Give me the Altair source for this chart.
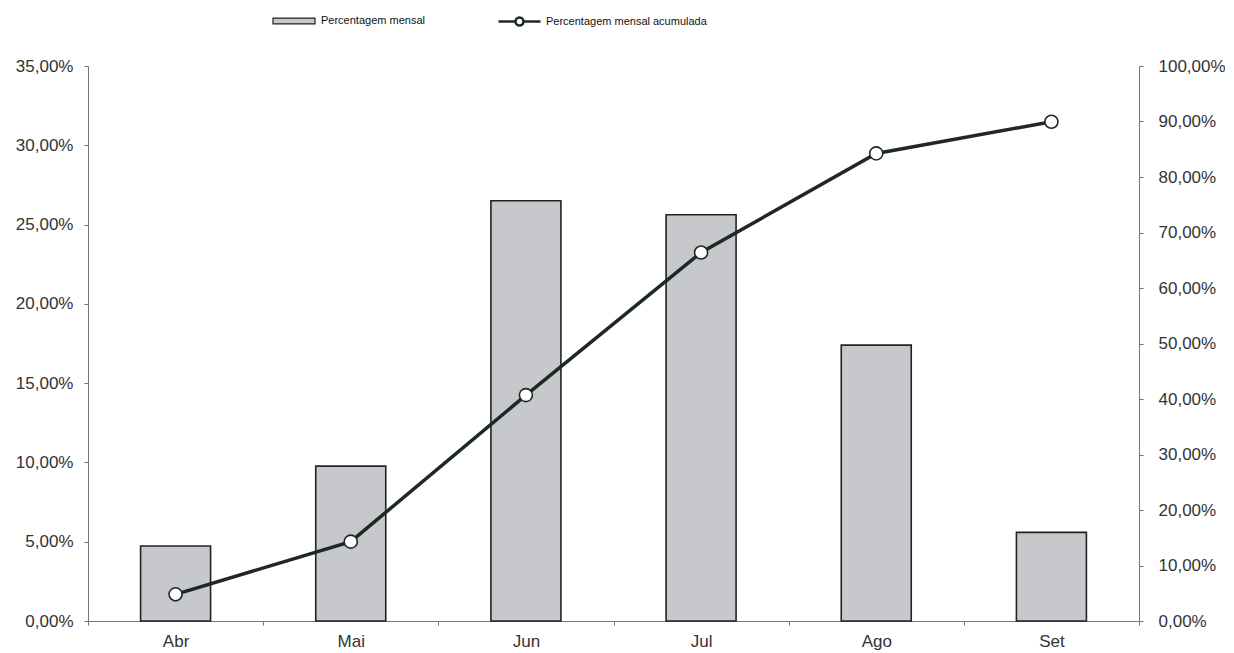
import altair as alt
import pandas as pd

months = ["Abr", "Mai", "Jun", "Jul", "Ago", "Set"]
monthly = [0.0473, 0.0977, 0.2650, 0.2562, 0.1740, 0.0559]
cumulative = [0.0481, 0.1430, 0.4070, 0.6640, 0.8425, 0.8995]
left_ticks = [0, 0.05, 0.10, 0.15, 0.20, 0.25, 0.30, 0.35]
right_ticks = [0, 0.1, 0.2, 0.3, 0.4, 0.5, 0.6, 0.7, 0.8, 0.9, 1.0]

bar_name = "Percentagem mensal"
line_name = "Percentagem mensal acumulada"

df = pd.DataFrame({
    "mes": months,
    "mensal": monthly,
    "acumulada": cumulative,
    "s_bar": [bar_name] * len(months),
    "s_line": [line_name] * len(months),
})

FONT = "Liberation Sans"
pct_expr = "replace(format(datum.value, '.2%'), '.', ',')"

bar_path = "M-1,-0.14H1V0.14H-1Z"
line_path = ("M-1,0H-0.19M0.19,0H1M-0.19,0A0.19,0.19,0,1,0,0.19,0"
             "A0.19,0.19,0,1,0,-0.19,0")

x_enc = alt.X(
    "mes:N", sort=months, title=None,
    scale=alt.Scale(paddingInner=0.0, paddingOuter=0.0),
    axis=alt.Axis(labelAngle=0, tickBand="extent", tickSize=4, labelPadding=8,
                  labelFontSize=17, labelFont=FONT, labelColor="#333333",
                  domainColor="#777777", tickColor="#777777", grid=False),
)

bars = alt.Chart(df).mark_bar(size=70, stroke="#222222", strokeWidth=1.6).encode(
    x=x_enc,
    y=alt.Y("mensal:Q", title=None,
            scale=alt.Scale(domain=[0, 0.35], nice=False),
            axis=alt.Axis(orient="left", values=left_ticks, labelExpr=pct_expr,
                          tickSize=4, labelPadding=11, labelFontSize=17,
                          labelFont=FONT, labelColor="#333333",
                          domainColor="#777777", tickColor="#777777", grid=False)),
    fill=alt.Fill("s_bar:N", title=None,
                  scale=alt.Scale(domain=[bar_name], range=["#c6c8cb"]),
                  legend=alt.Legend(
                      orient="none", legendX=184, legendY=-67,
                      symbolType=bar_path, symbolSize=1764,
                      symbolStrokeColor="#222222", symbolStrokeWidth=1.2,
                      symbolFillColor="#e4e5e6",
                      labelFontSize=11, labelFont=FONT, labelColor="#111111",
                      labelOffset=5, labelLimit=400)),
)

line = alt.Chart(df).mark_line(
    strokeWidth=3.5,
    point=alt.OverlayMarkDef(filled=True, fill="white", size=170,
                             strokeWidth=1.6, stroke="#1e2924"),
).encode(
    x=x_enc,
    y=alt.Y("acumulada:Q", title=None,
            scale=alt.Scale(domain=[0, 1.0], nice=False),
            axis=alt.Axis(orient="right", values=right_ticks, labelExpr=pct_expr,
                          tickSize=4, labelPadding=15, labelFontSize=17,
                          labelFont=FONT, labelColor="#333333",
                          domainColor="#777777", tickColor="#777777", grid=False)),
    stroke=alt.Stroke("s_line:N", title=None,
                      scale=alt.Scale(domain=[line_name], range=["#1e2924"]),
                      legend=alt.Legend(
                          orient="none", legendX=409, legendY=-67,
                          symbolType=line_path, symbolSize=1764,
                          symbolStrokeColor="#1e2924", symbolStrokeWidth=2.5,
                          symbolFillColor="white", symbolOpacity=1,
                          labelFontSize=11, labelFont=FONT, labelColor="#111111",
                          labelOffset=4, labelLimit=400)),
)

chart = alt.layer(bars, line).resolve_scale(
    y="independent", fill="independent", stroke="independent"
).properties(
    width=1051, height=555,
    autosize=alt.AutoSizeParams(type="none"),
    padding={"left": 80, "top": 58, "right": 86, "bottom": 30},
    background="white",
).configure_view(stroke=None)

chart.save("out.html", embed_options={"renderer": "svg", "actions": False})
